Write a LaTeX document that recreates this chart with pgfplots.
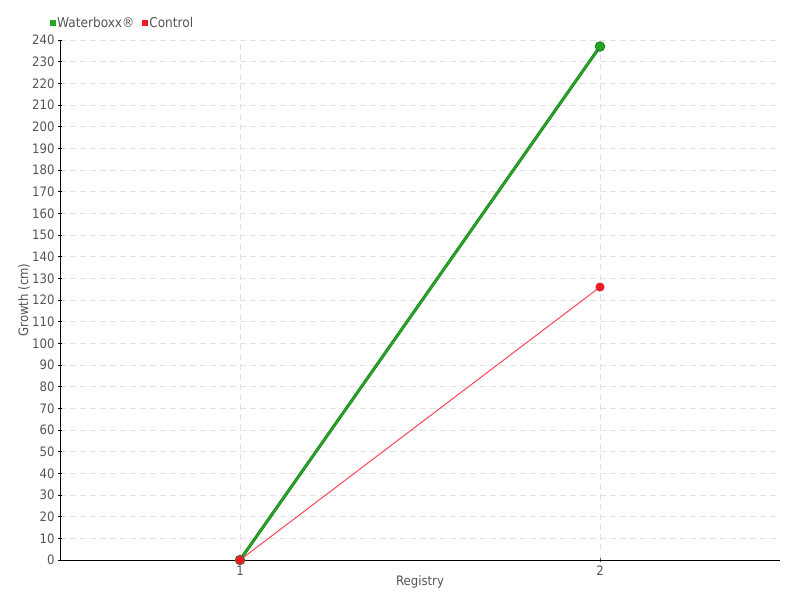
\documentclass[border=0pt]{standalone}
\usepackage{pgfplots}
\pgfplotsset{compat=1.18}
\usepackage{fontspec}
\setmainfont{DejaVu Sans Condensed}
\definecolor{wgreen}{RGB}{36,165,36}
\definecolor{wgreendark}{RGB}{26,125,26}
\definecolor{cred}{RGB}{236,28,40}
\definecolor{credline}{RGB}{250,70,90}
\definecolor{txtgray}{RGB}{85,85,85}
\definecolor{gridgray}{RGB}{225,225,225}
\begin{document}
\begin{tikzpicture}[x=1pt,y=1pt]
\useasboundingbox (0,0) rectangle (800,600);
\begin{axis}[
  scale only axis,
  width=720pt, height=520pt,
  at={(60pt,40pt)}, anchor=south west,
  xmin=0.5, xmax=2.5,
  ymin=0, ymax=240,
  xtick={1,2},
  ytick={0,10,...,240},
  axis x line=bottom,
  axis y line=left,
  axis line style={black, -},
  tick style={black, thin},
  major tick length=4pt,
  xtick style={txtgray},
  grid=major,
  major grid style={gridgray, dash pattern=on 6pt off 4pt},
  ticklabel style={font=\fontsize{13}{15}\selectfont, text=txtgray},
  /pgf/number format/assume math mode=true,
  xlabel={Registry},
  ylabel={Growth (cm)},
  label style={font=\fontsize{13}{15}\selectfont, text=txtgray},
  xlabel style={yshift=6pt},
  ylabel style={yshift=-4.5pt},
  legend columns=-1,
  legend style={draw=none, fill=none, at={(-0.018,1.052)}, anchor=north west,
    font=\fontsize{13.5}{15}\selectfont, text=txtgray,
    /tikz/every even column/.append style={column sep=6pt}},
  legend cell align=left,
  clip=false,
]
\addlegendimage{only marks, mark=square*, mark size=2.5pt, color=wgreen}
\addlegendentry{Waterboxx®}
\addlegendimage{only marks, mark=square*, mark size=2.5pt, color=cred}
\addlegendentry{Control}
\addplot[wgreendark, line width=3pt, mark=*, mark size=4.8pt,
  mark options={fill=wgreen, draw=wgreendark, line width=0.8pt}, forget plot]
  coordinates {(1,0) (2,237)};
\addplot[wgreen, line width=1.8pt, forget plot] coordinates {(1,0) (2,237)};
\addplot[credline, line width=1pt, mark=*, mark size=4pt,
  mark options={fill=cred, draw=cred}, forget plot]
  coordinates {(1,0) (2,126)};
\end{axis}
\end{tikzpicture}
\end{document}
